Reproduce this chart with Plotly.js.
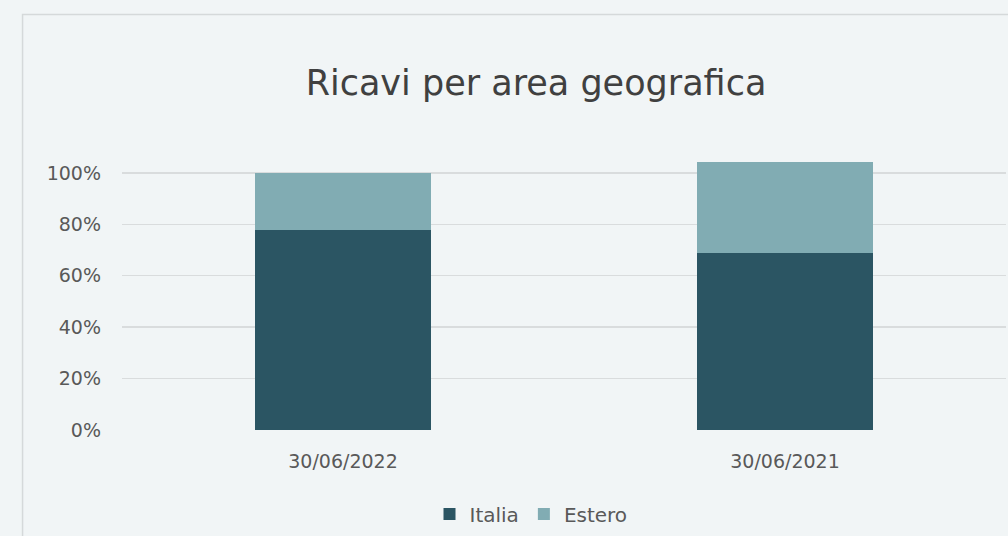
<!DOCTYPE html>
<html>
<head>
<meta charset="utf-8">
<script src="https://cdn.plot.ly/plotly-3.0.1.min.js"></script>
<style>
html,body{margin:0;padding:0;background:#f1f5f6;}
#chart{width:1008px;height:536px;}
</style>
</head>
<body>
<div id="chart"></div>
<script>
const categories = ["30/06/2022", "30/06/2021"];
const italia = [77.8, 68.8];
const estero = [22.2, 35.6];
const seriesNames = ["Italia", "Estero"];
const tickVals = [0, 20, 40, 60, 80, 100];

const colors = {italia: "#2b5563", estero: "#81acb3"};
const font = "'DejaVu Sans', 'Open Sans', sans-serif";

const traces = [
  {type: "bar", name: seriesNames[0], x: categories, y: italia,
   marker: {color: colors.italia}, hoverinfo: "none"},
  {type: "bar", name: seriesNames[1], x: categories, y: estero,
   marker: {color: colors.estero}, hoverinfo: "none"}
];

const L = 122, R = 1006.5, T = 160, B = 430;
const pw = R - L, ph = B - T;

const layout = {
  width: 1008, height: 536,
  paper_bgcolor: "#f1f5f6", plot_bgcolor: "#f1f5f6",
  margin: {l: L, r: 1008 - R, t: T, b: 536 - B, pad: 0},
  barmode: "stack",
  bargap: 0.6,
  showlegend: true,
  font: {family: font, color: "#595959", size: 18},
  title: {
    text: "Ricavi per area geografica",
    font: {family: font, size: 35, color: "#404040"},
    xref: "container", x: 536 / 1008, xanchor: "center",
    yref: "container", y: 1 - 83 / 536, yanchor: "middle"
  },
  xaxis: {
    type: "category",
    showgrid: false, zeroline: false, showline: false,
    ticks: "", tickfont: {family: font, size: 19, color: "#595959"},
    ticklabelstandoff: 18
  },
  yaxis: {
    range: [0, 105],
    tickvals: tickVals,
    ticktext: tickVals.map(v => v + "%"),
    showgrid: true, gridcolor: "#d9dcdd", gridwidth: 1.5,
    zeroline: false, showline: false, ticks: "",
    tickfont: {family: font, size: 19, color: "#595959"},
    ticklabelstandoff: 20
  },
  legend: {
    orientation: "h",
    xref: "container", x: 531 / 1008, xanchor: "center",
    yref: "container", y: 1 - 514 / 536, yanchor: "middle",
    font: {family: font, size: 20, color: "#595959"},
    bgcolor: "rgba(0,0,0,0)",
    itemwidth: 30,
    traceorder: "normal"
  },
  shapes: [{
    type: "rect", xref: "paper", yref: "paper", layer: "below",
    x0: (22.5 - L) / pw, x1: (1100 - L) / pw,
    y0: (B - 700) / ph, y1: (B - 14.5) / ph,
    line: {color: "#d5d9da", width: 1.5}, fillcolor: "rgba(0,0,0,0)"
  }]
};

Plotly.newPlot("chart", traces, layout, {displayModeBar: false, staticPlot: true});
</script>
</body>
</html>
